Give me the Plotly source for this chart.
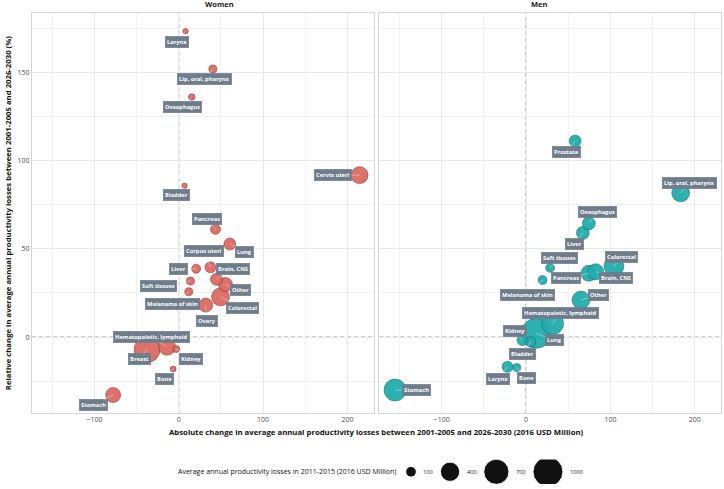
import plotly.graph_objects as go
import numpy as np

# ---------------- data ----------------
women_sites = ["Larynx", "Lip, oral, pharynx", "Oesophagus", "Bladder", "Cervix uteri",
               "Pancreas", "Lung", "Corpus uteri", "Liver", "Brain, CNS", "Soft tissues",
               "Other", "Melanoma of skin", "Colorectal", "Ovary", "Hematopoietic, lymphoid",
               "Breast", "Kidney", "Bone", "Stomach"]
women_abs = [8, 40.4, 15.4, 6.8, 214.4, 43.5, 60.5, 37.6, 20.6, 44.7, 13.9,
             55.4, 11.9, 49.5, 32, -13.8, -37.5, -3.1, -6.7, -77.8]
women_rel = [173.2, 151.8, 135.9, 85.7, 91.7, 61, 52.7, 39.5, 38.7, 32.7, 31.7,
             29.8, 25.7, 22.8, 18.1, -5.5, -7, -6.8, -18.1, -32.8]
women_loss = [3, 43, 18, 3, 300, 84, 134, 110, 62, 134, 43,
              194, 43, 340, 194, 300, 744, 26, 11, 227]

men_sites = ["Prostate", "Lip, oral, pharynx", "Oesophagus", "Liver", "Soft tissues",
             "Colorectal", "Brain, CNS", "Pancreas", "Melanoma of skin", "Other",
             "Hematopoietic, lymphoid", "Lung", "Kidney", "Bladder", "Larynx", "Bone", "Stomach"]
men_abs = [58.1, 183.2, 74.4, 67.3, 28.5, 104.1, 82.4, 74.4, 19.5, 65,
           31.5, 11.9, -4.3, 5.6, -22, -11, -155.3]
men_rel = [111, 81.7, 64.4, 59, 39.2, 40.2, 37, 36.1, 32.3, 21,
           7.7, 2.1, -1.7, -2.7, -16.8, -17.2, -30]
men_loss = [134, 340, 163, 163, 62, 428, 263, 263, 62, 340,
            524, 1000, 108, 84, 108, 43, 524]

legend_values = [100, 400, 700, 1000]
x_ticks = [-100, 0, 100, 200]
y_ticks = [0, 50, 100, 150]

# ---------------- label offsets (pixels, layout only) ----------------
women_offsets = [(-9, 11), (-8, 10), (-9, 10), (-8, 9), (-27, 0),
                 (-8, -10), (15, 8), (-6, -16), (-18, 0), (17, -10), (-32, 5),
                 (15, 6), (-16, 12), (22, 11), (1, 16), (-16, -10),
                 (-8, 10), (15, 10), (-9, 10), (-20, 10)]
men_offsets = [(-9, 11), (9, -10), (9, -11), (-8, 11), (9, -10),
               (8, -9), (20, 6), (-23, 5), (-15, 15), (18, -5),
               (8, -10), (18, 7), (-7, -9), (-8, 12), (-10, 12), (10, 11), (21, 0)]

# ---------------- styling ----------------
W_COL = "#dd6a61"
M_COL = "#22adac"
LABEL_BG = "#6e7c8c"
FONT = "Open Sans"
GRID = "#e9e9e9"
GRID_MINOR = "#f1f1f1"
BORDER = "#d6d6d6"
X_RANGE = [-174, 231]
Y_RANGE = [-43, 183.5]


def diam(v):
    # area-linear size scale (like ggplot scale_size)
    v = np.asarray(v, dtype=float)
    return np.sqrt(26.7 + 0.873 * v)


fig = go.Figure()


def add_panel(sites, xs, ys, loss, color, line_col, xa, ya):
    order = np.argsort(-np.asarray(loss))
    fig.add_trace(go.Scatter(
        x=[xs[i] for i in order], y=[ys[i] for i in order],
        mode="markers", xaxis=xa, yaxis=ya, showlegend=False,
        text=[sites[i] for i in order],
        marker=dict(size=diam([loss[i] for i in order]), sizemode="diameter",
                    color=color, opacity=0.95,
                    line=dict(color=line_col, width=0.6)),
        hoverinfo="text"))


add_panel(women_sites, women_abs, women_rel, women_loss, W_COL, "rgba(90,30,25,0.75)", "x", "y")
add_panel(men_sites, men_abs, men_rel, men_loss, M_COL, "rgba(10,80,80,0.75)", "x2", "y2")

annotations = []


def add_labels(sites, xs, ys, offs, xref, yref):
    for s, x, y, (dx, dy) in zip(sites, xs, ys, offs):
        annotations.append(dict(
            x=x, y=y, xref=xref, yref=yref, text=s,
            showarrow=True, ax=dx, ay=dy, arrowhead=0, arrowwidth=0.6,
            arrowcolor="rgba(220,220,220,0.9)",
            bgcolor=LABEL_BG, borderpad=1.6, bordercolor=LABEL_BG, borderwidth=0.5,
            font=dict(family=FONT, size=5.7, color="white", weight="bold")))


add_labels(women_sites, women_abs, women_rel, women_offsets, "x", "y")
add_labels(men_sites, men_abs, men_rel, men_offsets, "x2", "y2")

# facet titles
annotations.append(dict(x=0.248, y=1.019, xref="paper", yref="paper", text="Women",
                        showarrow=False, yanchor="middle",
                        font=dict(family=FONT, size=7.5, color="#222", weight="bold")))
annotations.append(dict(x=0.752, y=1.019, xref="paper", yref="paper", text="Men",
                        showarrow=False, yanchor="middle",
                        font=dict(family=FONT, size=7.5, color="#222", weight="bold")))
# axis titles
annotations.append(dict(x=0.5, y=0.1104, xref="paper", yref="paper",
                        text="Absolute change in average annual productivity losses between 2001-2005 and 2026-2030 (2016 USD Million)",
                        showarrow=False, yanchor="middle",
                        font=dict(family=FONT, size=7.75, color="#111", weight="bold")))
annotations.append(dict(x=-0.0348, y=0.575, xref="paper", yref="paper",
                        text="Relative change in average annual productivity losses between 2001-2005 and 2026-2030 (%)",
                        textangle=-90, showarrow=False, xanchor="center", yanchor="middle",
                        font=dict(family=FONT, size=7.75, color="#111", weight="bold")))

# ---------------- size legend on its own axis ----------------
ld = diam(legend_values)
centers = [411.0]
for i in range(1, len(ld)):
    centers.append(centers[-1] + ld[i - 1] / 2 + 24 + ld[i] / 2)
fig.add_trace(go.Scatter(
    x=centers, y=[0.5] * len(centers), xaxis="x3", yaxis="y3", mode="markers",
    showlegend=False, hoverinfo="skip",
    marker=dict(size=ld, sizemode="diameter", color="#111111", opacity=1)))
for c, d, v in zip(centers, ld, legend_values):
    annotations.append(dict(x=c + d / 2 + 5, y=0.5, xref="x3", yref="y3", text=str(v),
                            showarrow=False, xanchor="left",
                            font=dict(family=FONT, size=5.7, color="#222")))
annotations.append(dict(x=centers[0] - ld[0] / 2 - 8, y=0.5, xref="x3", yref="y3",
                        text="Average annual productivity losses in 2011-2015 (2016 USD Million)",
                        showarrow=False, xanchor="right",
                        font=dict(family=FONT, size=7, color="#111")))

shapes = []
for xr, yr in (("x", "y"), ("x2", "y2")):
    shapes.append(dict(type="line", xref=xr, yref=yr + " domain", x0=0, x1=0, y0=0, y1=1,
                       line=dict(color="#8f8f8f", width=1, dash="4px,3px"), layer="below"))
    shapes.append(dict(type="line", xref=xr + " domain", yref=yr, x0=0, x1=1, y0=0, y1=0,
                       line=dict(color="#8f8f8f", width=1, dash="4px,3px"), layer="below"))

xcommon = dict(range=X_RANGE, tickvals=x_ticks, showgrid=True, gridcolor=GRID, gridwidth=1,
               minor=dict(dtick=50, tick0=0, showgrid=True, gridcolor=GRID_MINOR),
               zeroline=False, showline=True, linecolor=BORDER, linewidth=1, mirror=True,
               ticks="", tickfont=dict(family=FONT, size=7, color="#4d4d4d"))
ycommon = dict(range=Y_RANGE, tickvals=y_ticks, showgrid=True, gridcolor=GRID, gridwidth=1,
               minor=dict(dtick=25, tick0=0, showgrid=True, gridcolor=GRID_MINOR),
               zeroline=False, showline=True, linecolor=BORDER, linewidth=1, mirror=True,
               ticks="", tickfont=dict(family=FONT, size=7, color="#4d4d4d"), domain=[0.1507, 1])

fig.update_layout(
    width=724, height=489,
    margin=dict(l=32, r=3, t=13, b=5),
    paper_bgcolor="white", plot_bgcolor="white",
    xaxis=dict(domain=[0, 0.4958], anchor="y", **xcommon),
    xaxis2=dict(domain=[0.504, 1.0], anchor="y2", **xcommon),
    yaxis=dict(anchor="x", **ycommon),
    yaxis2=dict(anchor="x2", showticklabels=False, **ycommon),
    xaxis3=dict(domain=[0, 1], range=[32, 721], anchor="y3", visible=False),
    yaxis3=dict(domain=[0, 0.052], range=[0, 1], anchor="x3", visible=False),
    annotations=annotations, shapes=shapes,
    font=dict(family=FONT),
)

fig.write_html("out.html", config={"displayModeBar": False},
               post_script="document.body.style.margin='0';document.body.style.padding='0';")
